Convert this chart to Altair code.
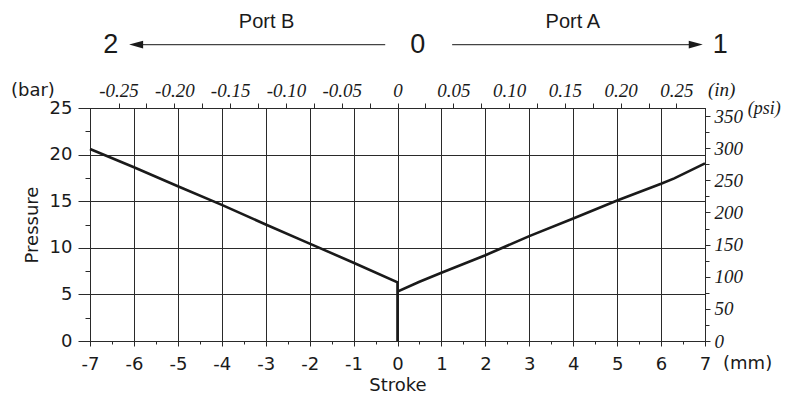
import altair as alt
import pandas as pd

# ---- data: pressure (bar) vs stroke (mm) ----
stroke_mm = [-7, -6, -5, -4, -3, -2, -1, 0, 0, 0, 0.5, 1, 2, 3, 4, 5, 6, 6.3, 7]
pressure_bar = [20.6, 18.65, 16.6, 14.6, 12.5, 10.45, 8.4, 6.3, 0, 5.3, 6.35, 7.33, 9.2,
                11.25, 13.15, 15.08, 16.87, 17.45, 19.05]

# ---- tick values ----
mm_ticks = [i / 2 for i in range(-14, 15)]          # minor every 0.5 mm
bar_ticks = [i * 2.5 for i in range(0, 11)]         # minor every 2.5 bar
inch_ticks = [k * 0.025 for k in range(-10, 11)]    # minor every 0.025 in
psi_ticks = list(range(0, 351, 25))                 # minor every 25 psi
MM_PER_IN = 25.4
PSI_PER_BAR = 14.5038

# ---- annotations (in mm / bar units) ----
head_text = ["2", "0", "1"]
head_x = [-6.53, 0.46, 7.35]
port_text = ["Port B", "Port A"]
port_x = [-2.98, 3.99]
arrow_x = [-5.95, 1.244]
arrow_x2 = [-0.28, 6.79]
arrowhead_x = [-5.95, 6.79]
arrowhead_shape = ["M -1 0 L 1 -0.57 L 1 0.57 Z", "M 1 0 L -1 -0.57 L -1 0.57 Z"]

xs = alt.Scale(domain=[-7, 7], nice=False, zero=False)
ys = alt.Scale(domain=[0, 25], nice=False, zero=False)
INK = "#1a1a1a"
GRID = "#2a2a2a"

curve = pd.DataFrame({"x": stroke_mm, "y": pressure_bar, "i": list(range(len(stroke_mm)))})

line = alt.Chart(curve).mark_line(color=INK, strokeWidth=2.6).encode(
    x=alt.X("x:Q", scale=xs, axis=alt.Axis(
        orient="bottom",
        values=mm_ticks,
        labelExpr="datum.value % 1 != 0 ? '' : '' + datum.value",
        tickSize={"condition": {"test": "datum.value % 1 != 0", "value": 3}, "value": 5},
        gridOpacity={"condition": {"test": "datum.value % 1 != 0", "value": 0}, "value": 1},
        grid=True, gridColor=GRID, gridWidth=1, domainColor=GRID, tickColor=GRID,
        labelFont="DejaVu Sans", labelFontSize=18, labelColor=INK, labelPadding=9,
        labelFlush=False, labelOverlap=False,
        title="Stroke", titleFont="DejaVu Sans", titleFontSize=18, titleFontWeight="normal",
        titleColor=INK, titlePadding=3)),
    y=alt.Y("y:Q", scale=ys, axis=alt.Axis(
        orient="left",
        values=bar_ticks,
        labelExpr="datum.value % 5 != 0 ? '' : '' + datum.value",
        tickSize={"condition": {"test": "datum.value % 5 != 0", "value": 5}, "value": 12},
        gridOpacity={"condition": {"test": "datum.value % 5 != 0", "value": 0}, "value": 1},
        grid=True, gridColor=GRID, gridWidth=1, domainColor=GRID, tickColor=GRID,
        labelFont="DejaVu Sans", labelFontSize=18, labelColor=INK, labelPadding=6,
        labelOverlap=False,
        title="Pressure", titleFont="DejaVu Sans", titleFontSize=18, titleFontWeight="normal",
        titleColor=INK, titlePadding=8)),
    order="i:Q",
)

def txt(df, **kw):
    return alt.Chart(df).mark_text(color=INK, **kw).encode(
        x=alt.X("x:Q", scale=xs, axis=None),
        y=alt.Y("y:Q", scale=ys, axis=None),
        text="t:N",
    )

heads = txt(pd.DataFrame({"x": head_x, "y": [30.94] * 3, "t": head_text}),
            font="Liberation Sans", fontSize=27, align="center", baseline="alphabetic")
ports = txt(pd.DataFrame({"x": port_x, "y": [33.62] * 2, "t": port_text}),
            font="Liberation Sans", fontSize=20, align="center", baseline="alphabetic")
bar_unit = txt(pd.DataFrame({"x": [-8.30], "y": [26.28], "t": ["(bar)"]}),
               font="DejaVu Sans", fontSize=18, align="center", baseline="alphabetic")
mm_unit = txt(pd.DataFrame({"x": [7.97], "y": [-1.5], "t": ["(mm)"]}),
              font="DejaVu Sans", fontSize=18, align="center", baseline="top")
in_unit = txt(pd.DataFrame({"x": [7.38], "y": [25.9], "t": ["(in)"]}),
              font="Liberation Serif", fontStyle="italic", fontSize=19, align="center", baseline="bottom")
psi_unit = txt(pd.DataFrame({"x": [8.35], "y": [24.4], "t": ["(psi)"]}),
               font="Liberation Serif", fontStyle="italic", fontSize=18, align="center", baseline="alphabetic")

arrows = alt.Chart(pd.DataFrame({"x": arrow_x, "x2": arrow_x2, "y": [31.8] * 2})).mark_rule(
    color="#444444", strokeWidth=1.3).encode(
    x=alt.X("x:Q", scale=xs, axis=None), x2="x2:Q", y=alt.Y("y:Q", scale=ys, axis=None))

heads_pts = alt.Chart(pd.DataFrame({"x": arrowhead_x, "y": [31.8] * 2, "s": arrowhead_shape})).mark_point(
    filled=True, color=INK, size=196, opacity=1, strokeWidth=0).encode(
    x=alt.X("x:Q", scale=xs, axis=None), y=alt.Y("y:Q", scale=ys, axis=None),
    shape=alt.Shape("s:N", scale=None))

sec_df = pd.DataFrame({"inch": [-7 / MM_PER_IN, 7 / MM_PER_IN], "psi": [0, 25 * PSI_PER_BAR]})
secondary = alt.Chart(sec_df).mark_point(opacity=0).encode(
    x=alt.X("inch:Q", scale=alt.Scale(domain=[-7 / MM_PER_IN, 7 / MM_PER_IN], nice=False, zero=False),
            axis=alt.Axis(
                orient="top", values=inch_ticks,
                labelExpr="abs(round(datum.value*40)) % 2 == 1 ? '' : (abs(datum.value) < 1e-9 ? '0' : (datum.value < 0 ? '-' : '') + format(abs(datum.value), '.2f'))",
                tickSize=5, grid=False, domainColor=GRID, tickColor=GRID,
                labelFont="Liberation Serif", labelFontStyle="italic", labelFontSize=19,
                labelColor=INK, labelPadding=3, labelFlush=False, labelOverlap=False, title=None)),
    y=alt.Y("psi:Q", scale=alt.Scale(domain=[0, 25 * PSI_PER_BAR], nice=False, zero=False),
            axis=alt.Axis(
                orient="right", values=psi_ticks,
                labelExpr="datum.value % 50 != 0 ? '' : '' + datum.value",
                tickSize={"condition": {"test": "datum.value % 50 != 0", "value": 4}, "value": 5},
                grid=False, domainColor=GRID, tickColor=GRID,
                labelFont="Liberation Serif", labelFontStyle="italic", labelFontSize=19,
                labelColor=INK, labelPadding=4, labelOverlap=False, title=None)),
)

chart = alt.layer(line, secondary, arrows, heads_pts, heads, ports, bar_unit, mm_unit, in_unit, psi_unit
                  ).resolve_scale(x="independent", y="independent").properties(
    width=615, height=233,
    padding={"left": 82, "top": 100, "right": 76, "bottom": 54},
    autosize=alt.AutoSizeParams(type="none"),
    background="white",
).configure_view(stroke=GRID)

chart.save("out.html", embed_options={"renderer": "svg", "actions": False})
